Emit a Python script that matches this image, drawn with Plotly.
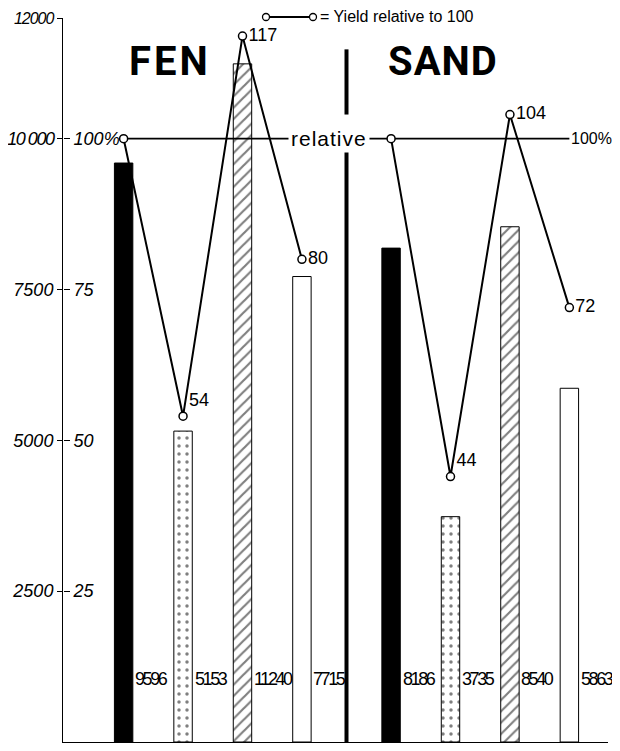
import plotly.graph_objects as go

# ---------------- data ----------------
groups = ["FEN", "SAND"]
fen_yield = [9596, 5153, 11240, 7715]
sand_yield = [8186, 3735, 8540, 5863]
fen_relative = [100, 54, 117, 80]
sand_relative = [100, 44, 104, 72]
fen_x = [0, 1, 2, 3]
sand_x = [4.5, 5.5, 6.5, 7.5]
yield_ticks = [2500, 5000, 7500, 10000, 12000]
yield_tick_labels = ["2500", "5000", "7500", "10 000", "12000"]
rel_ticks = [25, 50, 75, 100]
rel_tick_labels = ["25", "50", "75", "100%"]
legend_label = "= Yield relative to 100"
reference_label = "relative"

SANS = "Liberation Sans, Arial, sans-serif"
TITLE_FONT = "Roboto, Liberation Sans, sans-serif"

# The page body adds an 8px margin; size the figure so the page fits the window.
PAGE = 8
VIEW_W, VIEW_H = 620, 751
PLOT_L, PLOT_R, PLOT_T, PLOT_B = 63, 608, 18, 742   # intended plot box in the screenshot
W, H = VIEW_W - 2 * PAGE, VIEW_H - 2 * PAGE
L, T = PLOT_L - PAGE, PLOT_T - PAGE
R = W - (PLOT_R - PAGE)
B = H - (PLOT_B - PAGE)
PW, PH = PLOT_R - PLOT_L, PLOT_B - PLOT_T

def px(x):
    return (x - PLOT_L) / PW

def py(y):
    return (PLOT_B - y) / PH

def spaced(s, sp, size=None):
    extra = ";font-size:%spx" % size if size else ""
    return '<span style="letter-spacing:%spx%s">%s</span>' % (sp, extra, s)

fills = [
    dict(color="black"),
    dict(color="white", pattern=dict(shape=".", fgcolor="black", bgcolor="white",
                                     size=8, solidity=0.15)),
    dict(color="white", pattern=dict(shape="/", fgcolor="black", bgcolor="white",
                                     size=8, solidity=0.27)),
    dict(color="white"),
]

fig = go.Figure()
for i, f in enumerate(fills):
    fig.add_trace(go.Bar(
        x=[fen_x[i], sand_x[i]], y=[fen_yield[i], sand_yield[i]],
        width=0.31, marker=dict(**f, line=dict(color="black", width=1)),
        showlegend=False, hoverinfo="skip"))

# 100% reference line
line_end = sand_x[-1]
fig.add_trace(go.Scatter(
    x=[fen_x[0], line_end], y=[100, 100], yaxis="y2", mode="lines",
    line=dict(color="black", width=1.6), showlegend=False, hoverinfo="skip"))

# relative yield line
rel_x = fen_x + [None] + sand_x
rel_y = fen_relative + [None] + sand_relative
rel_text = [("" if v == 100 else str(v)) for v in fen_relative] + [""] + \
           [("" if v == 100 else str(v)) for v in sand_relative]
rel_pos = ["middle right", "top right", "middle right", "middle right", "middle right",
           "middle right", "top right", "middle right", "middle right"]
fig.add_trace(go.Scatter(
    x=rel_x, y=rel_y, yaxis="y2", mode="lines+markers+text",
    line=dict(color="black", width=2),
    marker=dict(symbol="circle", size=8, color="white", line=dict(color="black", width=1.5)),
    text=rel_text, textposition=rel_pos,
    textfont=dict(family=SANS, size=18, color="black"),
    cliponaxis=False, showlegend=False, hoverinfo="skip"))

sep_x = (fen_x[-1] + sand_x[0]) / 2
shapes = [
    dict(type="line", xref="x", yref="y", x0=sep_x, x1=sep_x, y0=0, y1=9790,
         line=dict(color="black", width=4)),
    dict(type="line", xref="x", yref="y", x0=sep_x, x1=sep_x, y0=10400, y1=11480,
         line=dict(color="black", width=4)),
    # legend key
    dict(type="line", xref="paper", yref="paper", x0=px(268), x1=px(311),
         y0=py(17), y1=py(17), line=dict(color="black", width=2)),
]
for cx in (266, 313):
    shapes.append(dict(type="circle", xref="paper", yref="paper",
                       xsizemode="pixel", ysizemode="pixel",
                       xanchor=px(cx), yanchor=py(17), x0=-3.5, x1=3.5, y0=-3.5, y1=3.5,
                       fillcolor="white", line=dict(color="black", width=1.3)))

annotations = [
    dict(text=spaced(reference_label, 1), x=3.45, y=100, xref="x", yref="y2",
         xanchor="center", showarrow=False,
         font=dict(family=SANS, size=21, color="black"),
         bgcolor="white", borderpad=2),
    dict(text="100%", x=line_end, y=100, xref="x", yref="y2", xanchor="left",
         showarrow=False, font=dict(family=SANS, size=16, color="black")),
    dict(text=legend_label, x=px(318), y=py(17), xref="paper", yref="paper",
         xanchor="left", yanchor="middle", showarrow=False,
         font=dict(family=SANS, size=16, color="black")),
    dict(text=spaced(groups[0], 3), x=px(170), y=py(62), xref="paper", yref="paper",
         xanchor="center", yanchor="middle", showarrow=False,
         font=dict(family=TITLE_FONT, size=40, color="black", weight="bold")),
    dict(text=spaced(groups[1], 1), x=px(443), y=py(62), xref="paper", yref="paper",
         xanchor="center", yanchor="middle", showarrow=False,
         font=dict(family=TITLE_FONT, size=40, color="black", weight="bold")),
]
for xs, ys in ((fen_x, fen_yield), (sand_x, sand_yield)):
    for xv, yv in zip(xs, ys):
        annotations.append(dict(
            text=spaced(str(yv), -2.4), x=xv + 0.16, y=1050, xref="x", yref="y",
            xanchor="left", yanchor="middle", showarrow=False,
            font=dict(family=SANS, size=18, color="black")))

left_tick_text = []
for t in yield_tick_labels:
    if t == yield_tick_labels[-1]:
        left_tick_text.append(spaced(t, -1, 16))
    elif len(t) > 4:
        left_tick_text.append(spaced(t, -1.5))
    else:
        left_tick_text.append(t)

fig.update_layout(
    width=W, height=H, margin=dict(l=L, r=R, t=T, b=B, autoexpand=False),
    paper_bgcolor="white", plot_bgcolor="white", barmode="overlay",
    showlegend=False,
    xaxis=dict(range=[-1.02, 8.15], showticklabels=False, ticks="", showgrid=False,
               zeroline=False, showline=True, linecolor="black", linewidth=1.5,
               automargin=False),
    yaxis=dict(range=[0, 12000], tickvals=yield_ticks, ticktext=left_tick_text,
               ticks="outside", ticklen=5, tickwidth=1, tickcolor="black",
               showline=True, linecolor="black", linewidth=1, showgrid=False,
               zeroline=False, automargin=False, ticklabeloverflow="allow",
               tickfont=dict(family=SANS, size=18, color="black", style="italic")),
    yaxis2=dict(overlaying="y", side="right", anchor="free", position=0,
                range=[0, 120], tickvals=rel_ticks, ticktext=rel_tick_labels,
                ticks="outside", ticklen=6, tickwidth=1, tickcolor="black",
                showline=False, showgrid=False, zeroline=False, automargin=False,
                ticklabeloverflow="allow",
                tickfont=dict(family=SANS, size=18, color="black", style="italic")),
    shapes=shapes, annotations=annotations,
)

fig.write_html("out.html")
